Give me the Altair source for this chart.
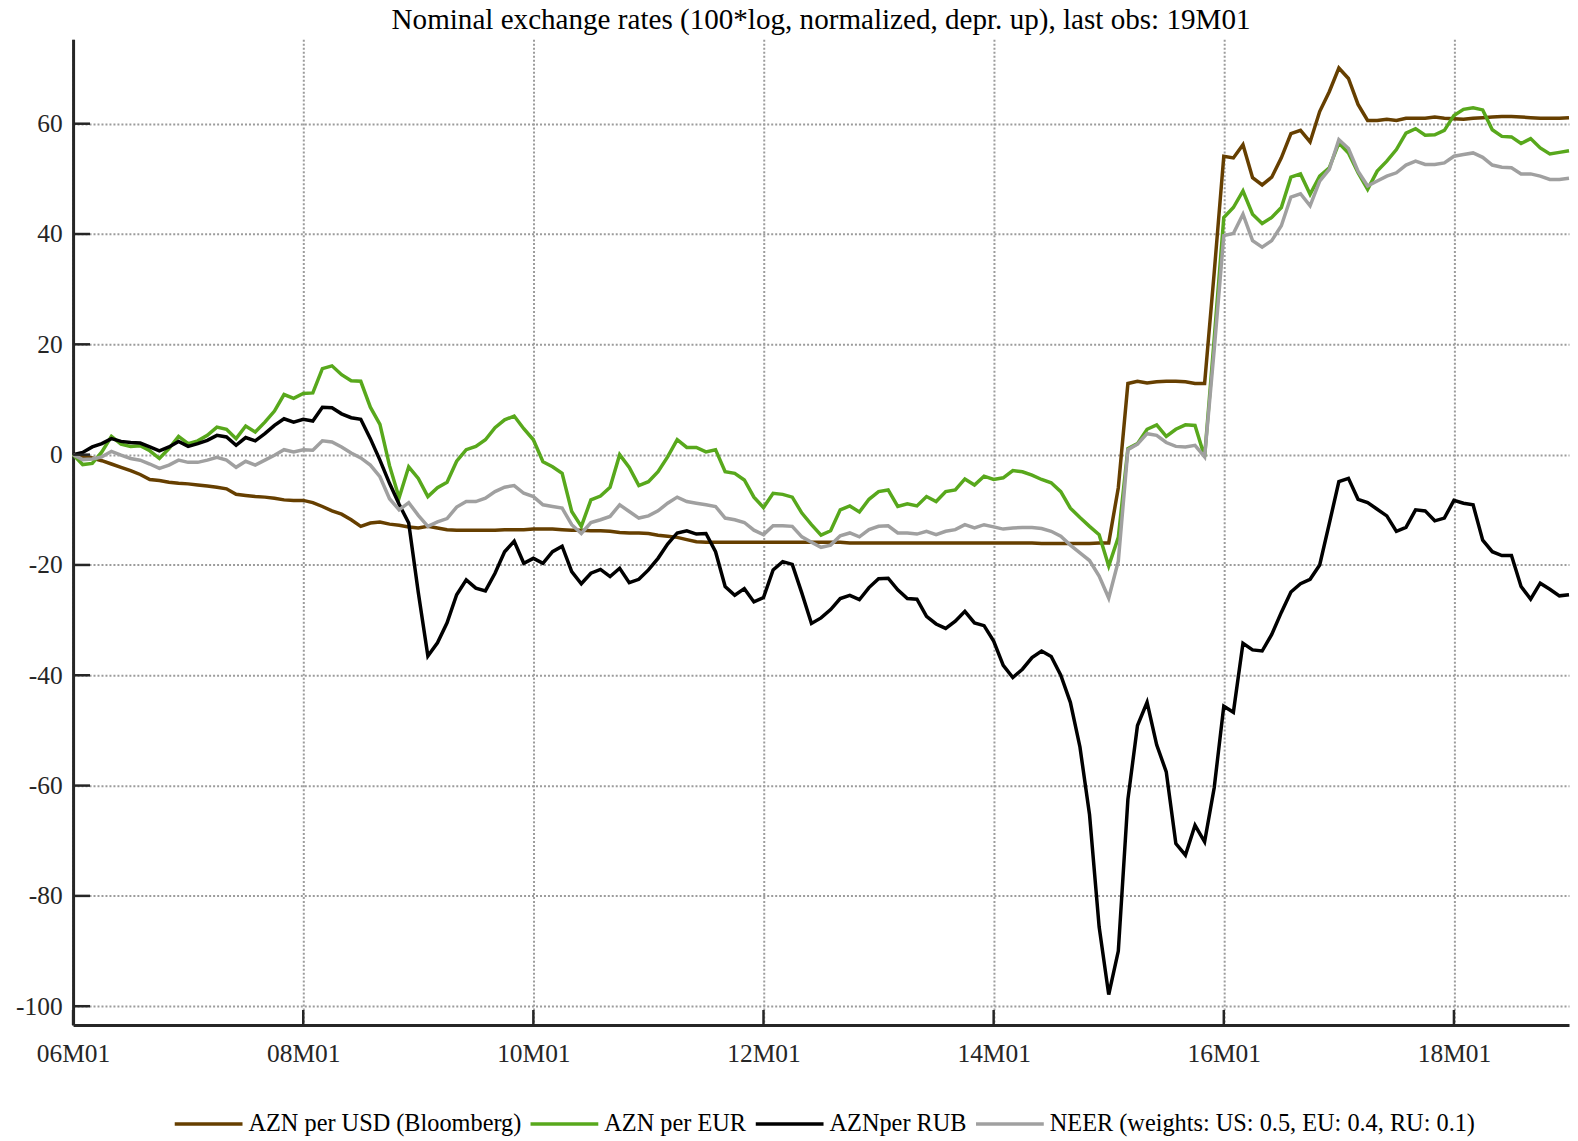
import altair as alt
import pandas as pd

# ---------------- data (month index 0 = 2006M01 ... 156 = 2019M01) ----------------
usd = [
    0, -0.3, -0.6, -1.1, -1.7, -2.3, -2.9, -3.6, -4.5, -4.7,
    -5.0, -5.2, -5.3, -5.5, -5.7, -5.9, -6.2, -7.2, -7.4, -7.6,
    -7.7, -7.9, -8.2, -8.3, -8.3, -8.7, -9.4, -10.2, -10.8, -11.8,
    -13.0, -12.4, -12.2, -12.6, -12.8, -13.1, -13.3, -13.0, -13.3, -13.6,
    -13.7, -13.7, -13.7, -13.7, -13.7, -13.6, -13.6, -13.6, -13.5, -13.5,
    -13.5, -13.6, -13.7, -13.7, -13.8, -13.8, -13.9, -14.1, -14.2, -14.2,
    -14.3, -14.6, -14.8, -15.0, -15.4, -15.8, -15.9, -15.9, -15.9, -15.9,
    -15.9, -15.9, -15.9, -15.9, -15.9, -15.9, -15.9, -15.9, -15.9, -15.9,
    -15.9, -16.0, -16.0, -16.0, -16.0, -16.0, -16.0, -16.0, -16.0, -16.0,
    -16.0, -16.0, -16.0, -16.0, -16.0, -16.0, -16.0, -16.0, -16.0, -16.0,
    -16.0, -16.1, -16.1, -16.1, -16.1, -16.1, -16.1, -16.0, -16.0, -6.0,
    12.9, 13.3, 13.0, 13.2, 13.3, 13.3, 13.2, 12.9, 12.9, 33.0,
    54.1, 53.8, 56.2, 50.2, 48.9, 50.3, 53.8, 58.2, 58.8, 56.7,
    62.2, 65.8, 70.1, 68.2, 63.5, 60.6, 60.6, 60.8, 60.6, 61.0,
    61.0, 61.0, 61.2, 61.0, 60.9, 60.8, 61.0, 61.1, 61.2, 61.3,
    61.3, 61.2, 61.1, 61.0, 61.0, 61.0, 61.1,
]
eur = [
    0, -1.8, -1.6, 0.5, 3.3, 1.9, 1.5, 1.6, 0.7, -0.7,
    1.1, 3.3, 2.0, 2.5, 3.5, 5.0, 4.6, 2.9, 5.2, 4.1,
    5.9, 7.9, 10.9, 10.2, 11.1, 11.2, 15.6, 16.1, 14.5, 13.4,
    13.3, 8.6, 5.5, -2.0, -7.8, -2.2, -4.3, -7.6, -6.0, -5.0,
    -1.2, 0.9, 1.5, 2.7, 4.9, 6.3, 7.0, 4.7, 2.7, -1.3,
    -2.2, -3.4, -10.3, -13.0, -8.2, -7.5, -5.9, 0.0, -2.3, -5.6,
    -4.9, -3.1, -0.4, 2.7, 1.3, 1.3, 0.5, 0.9, -3.1, -3.4,
    -4.6, -7.7, -9.6, -7.0, -7.2, -7.7, -10.6, -12.7, -14.6, -13.8,
    -10.0, -9.3, -10.4, -8.1, -6.7, -6.4, -9.4, -8.9, -9.3, -7.6,
    -8.5, -6.7, -6.4, -4.4, -5.5, -3.9, -4.5, -4.2, -2.9, -3.1,
    -3.7, -4.5, -5.1, -6.7, -9.7, -11.4, -13.0, -14.5, -20.2, -15.0,
    1.1, 2.0, 4.6, 5.4, 3.3, 4.6, 5.4, 5.3, -0.4, 21.0,
    43.0, 44.8, 47.8, 43.6, 41.9, 43.0, 44.8, 50.3, 50.9, 47.2,
    50.5, 52.0, 56.5, 54.7, 51.1, 48.1, 51.4, 53.2, 55.3, 58.3,
    59.1, 57.9, 58.0, 58.8, 61.5, 62.6, 62.9, 62.5, 58.9, 57.7,
    57.6, 56.4, 57.3, 55.6, 54.5, 54.8, 55.1,
]
rub = [
    0, 0.4, 1.4, 2.0, 2.9, 2.4, 2.2, 2.1, 1.4, 0.7,
    1.4, 2.4, 1.5, 2.0, 2.6, 3.5, 3.2, 1.7, 3.1, 2.5,
    3.8, 5.3, 6.5, 5.9, 6.4, 6.1, 8.6, 8.5, 7.4, 6.7,
    6.4, 2.9, -1.0, -5.2, -9.0, -12.4, -25.0, -36.5, -34.1, -30.5,
    -25.4, -22.7, -24.2, -24.7, -21.5, -17.6, -15.7, -19.7, -18.8, -19.7,
    -17.6, -16.6, -21.2, -23.4, -21.5, -20.8, -22.1, -20.6, -23.2, -22.6,
    -20.9, -18.8, -16.2, -14.2, -13.8, -14.4, -14.3, -17.6, -23.9, -25.5,
    -24.3, -26.7, -25.9, -20.9, -19.4, -19.9, -25.1, -30.6, -29.6, -28.1,
    -26.1, -25.5, -26.3, -24.1, -22.5, -22.4, -24.5, -26.1, -26.2, -29.3,
    -30.7, -31.5, -30.2, -28.4, -30.5, -31.0, -33.8, -38.2, -40.4, -38.9,
    -36.8, -35.6, -36.6, -40.0, -44.9, -53.0, -65.3, -85.6, -97.9, -90.0,
    -62.5, -49.1, -44.9, -52.6, -57.5, -70.5, -72.6, -67.2, -70.2, -60.4,
    -45.6, -46.7, -34.2, -35.4, -35.6, -32.6, -28.6, -24.9, -23.4, -22.6,
    -20.0, -12.5, -4.9, -4.3, -8.1, -8.7, -9.9, -11.1, -13.9, -13.2,
    -10.0, -10.2, -12.0, -11.5, -8.3, -8.8, -9.1, -15.5, -17.6, -18.3,
    -18.3, -23.9, -26.2, -23.3, -24.4, -25.6, -25.4,
]
neer = [
    0, -0.9, -0.8, -0.4, 0.6, -0.1, -0.7, -1.0, -1.7, -2.5,
    -1.9, -1.0, -1.4, -1.4, -1.0, -0.5, -1.0, -2.3, -1.2, -1.9,
    -1.0, -0.1, 0.9, 0.5, 0.9, 0.8, 2.5, 2.3, 1.4, 0.3,
    -0.6, -1.9, -4.0, -8.0, -10.0, -8.7, -11.0, -13.0, -12.2, -11.6,
    -9.5, -8.5, -8.5, -7.9, -6.7, -5.9, -5.6, -7.0, -7.6, -9.1,
    -9.4, -9.7, -12.7, -14.3, -12.3, -11.8, -11.2, -9.1, -10.3, -11.5,
    -11.1, -10.2, -8.8, -7.7, -8.5, -8.8, -9.1, -9.4, -11.5, -11.8,
    -12.3, -13.7, -14.5, -12.9, -12.9, -13.0, -14.9, -15.9, -16.8, -16.4,
    -14.7, -14.2, -14.9, -13.6, -13.0, -12.9, -14.2, -14.2, -14.4, -13.9,
    -14.5, -13.9, -13.6, -12.7, -13.3, -12.7, -13.1, -13.5, -13.3, -13.2,
    -13.2, -13.4, -13.9, -14.8, -16.4, -17.8, -19.2, -22.0, -26.0, -19.3,
    0.9, 1.9, 3.8, 3.5, 2.2, 1.5, 1.4, 1.7, -0.4, 19.0,
    39.7, 40.1, 43.6, 38.8, 37.6, 38.8, 41.5, 46.7, 47.3, 45.1,
    49.6, 51.7, 57.1, 55.5, 51.4, 48.7, 49.6, 50.5, 51.1, 52.5,
    53.2, 52.6, 52.6, 52.9, 54.1, 54.4, 54.7, 53.9, 52.5, 52.1,
    52.0, 50.9, 50.9, 50.5, 49.9, 49.9, 50.1,
]

series_names = [
    "AZN per USD (Bloomberg)",
    "AZN per EUR",
    "AZNper RUB",
    "NEER (weights: US: 0.5, EU: 0.4, RU: 0.1)",
]
series_colors = ["#663f00", "#58a81c", "#000000", "#a0a0a0"]
x_tick_pos = [0, 24, 48, 72, 96, 120, 144]
x_tick_labels = ["06M01", "08M01", "10M01", "12M01", "14M01", "16M01", "18M01"]
y_ticks = [-100, -80, -60, -40, -20, 0, 20, 40, 60]
title_text = "Nominal exchange rates (100*log, normalized, depr. up), last obs: 19M01"

# ---------------- build tables ----------------
rows = []
for name, vals in zip(series_names, [usd, eur, rub, neer]):
    for i, v in enumerate(vals):
        rows.append({"t": i, "v": v, "series": name})
df = pd.DataFrame(rows)

label_expr = " : ".join(
    f"datum.value == {p} ? '{l}'" for p, l in zip(x_tick_pos, x_tick_labels)
) + " : ''"

W, H = 1501, 989
FONT = "Liberation Serif"
AX = "#262626"
GRID = "#9c9c9c"

xscale = alt.Scale(domain=[0, 156], nice=False, zero=False)
yscale = alt.Scale(domain=[-103.4, 75.3], nice=False, zero=False)

x_axis = alt.Axis(
    values=x_tick_pos, labelExpr=label_expr, title=None, grid=True,
    ticks=False, tickSize=0, labelPadding=17, labelFont=FONT, labelFontSize=25.5,
    labelColor=AX, domainColor=AX, domainWidth=3,
    gridColor=GRID, gridDash=[2, 2], gridWidth=2, labelFlush=False,
)
y_axis = alt.Axis(
    values=y_ticks, labelExpr="toString(datum.value)", title=None, grid=True,
    ticks=False, tickSize=0,
    labelPadding=11, labelFont=FONT, labelFontSize=25.5, labelColor=AX,
    domainColor=AX, domainWidth=3, gridColor=GRID, gridDash=[2, 2],
    gridWidth=2, labelFlush=False,
)

color = alt.Color(
    "series:N",
    scale=alt.Scale(domain=series_names, range=series_colors),
    legend=alt.Legend(
        title=None, orient="none", legendX=100, legendY=1052,
        direction="horizontal", columns=4, symbolType="stroke",
        symbolSize=4624, symbolStrokeWidth=3.5, labelFont=FONT,
        labelFontSize=24.4, labelColor="black", labelLimit=1000,
        labelOffset=4, columnPadding=2, padding=0,
    ),
)

layers = []
for name in series_names:
    layers.append(
        alt.Chart(df).transform_filter(alt.datum.series == name)
        .mark_line(strokeWidth=3.5)
        .encode(
            x=alt.X("t:Q", scale=xscale, axis=x_axis),
            y=alt.Y("v:Q", scale=yscale, axis=y_axis),
            color=color,
        )
    )

ytick_rules = alt.Chart(pd.DataFrame({"v": y_ticks})).mark_rule(
    color=AX, strokeWidth=2.5
).encode(
    y=alt.Y("v:Q", scale=yscale, axis=y_axis),
    x=alt.value(0), x2=alt.value(17),
)
xtick_rules = alt.Chart(pd.DataFrame({"t": x_tick_pos})).mark_rule(
    color=AX, strokeWidth=2.5
).encode(
    x=alt.X("t:Q", scale=xscale, axis=x_axis),
    y=alt.value(H), y2=alt.value(H - 15),
)

chart = (
    alt.layer(*layers, ytick_rules, xtick_rules)
    .properties(
        width=W, height=H,
        title=alt.TitleParams(
            title_text, font=FONT, fontSize=29.2, fontWeight="normal",
            color="black", anchor="middle", frame="group", offset=4,
        ),
        autosize=alt.AutoSizeParams(type="none"),
        padding={"left": 65.3, "top": 29.5, "right": 1, "bottom": 111.5},
    )
    .configure_view(stroke=None)
)

chart.save("out.html", embed_options={"renderer": "svg", "actions": False})
